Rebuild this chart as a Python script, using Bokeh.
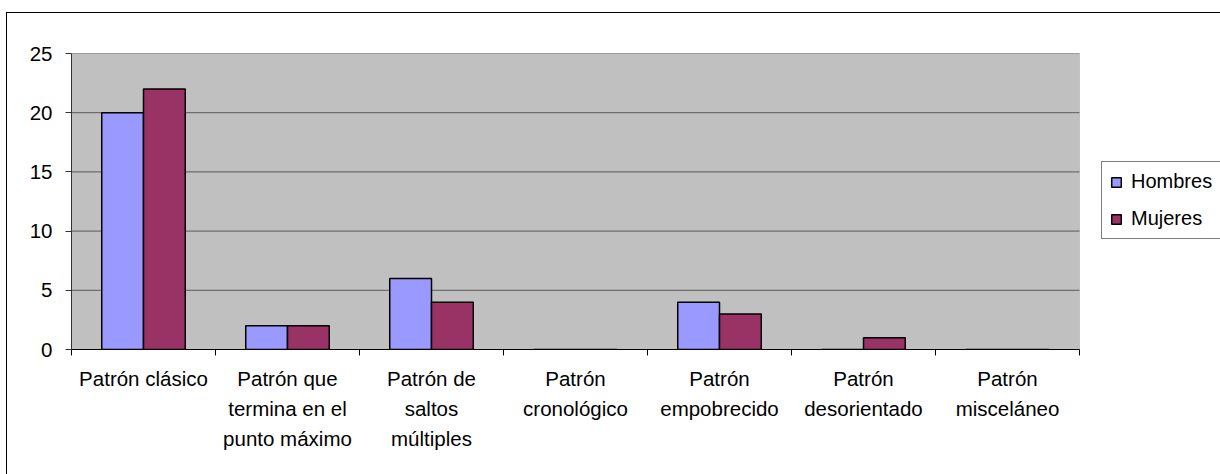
from bokeh.plotting import figure
from bokeh.models import (ColumnDataSource, FixedTicker, Range1d, Legend, LegendItem,
                          BoxAnnotation)
from bokeh.embed import file_html
from bokeh.resources import INLINE
import numpy as np

categories = ["Patrón clásico", "Patrón que\ntermina en el\npunto máximo",
              "Patrón de\nsaltos\nmúltiples", "Patrón\ncronológico",
              "Patrón\nempobrecido", "Patrón\ndesorientado", "Patrón\nmisceláneo"]
hombres = [20, 2, 6, 0, 4, 0, 0]
mujeres = [22, 2, 4, 0, 3, 1, 0]
y_ticks = [0, 5, 10, 15, 20, 25]

FONT = "Liberation Sans"
n = len(categories)
ymax = y_ticks[-1]
centers = np.arange(n) + 0.5
bw = 0.29

src = ColumnDataSource(dict(xc=centers, h=hombres, m=mujeres,
                            xh=centers - bw / 2, xm=centers + bw / 2))

# plot area is 1008 px wide for the 7 categories; the frame extends to the
# right edge so the legend (which reaches past the window) is not clipped
FRAME_W = 1214 - 64
x_end = n * FRAME_W / 1008.0

p = figure(width=1214, height=462, output_backend="svg", toolbar_location=None,
           x_range=Range1d(0, x_end), y_range=Range1d(0, ymax),
           min_border_left=64, min_border_right=0, min_border_top=40,
           min_border_bottom=126)
p.margin = (12, 0, 0, 6)
p.styles = {"border-left": "1px solid #000", "border-top": "1px solid #000"}
p.background_fill_color = "white"
p.border_fill_color = "white"
p.outline_line_color = None

plot_area = BoxAnnotation(left=0, right=n, bottom=0, top=ymax,
                          fill_color="#c0c0c0", fill_alpha=1,
                          line_color="#808080", line_width=1, level="image")
p.add_layout(plot_area)

p.ygrid.visible = False
p.xgrid.visible = False
p.segment(x0=[0] * len(y_ticks), x1=[n] * len(y_ticks), y0=y_ticks, y1=y_ticks,
          line_color="#5a5a5a", line_width=1, level="underlay")

rh = p.vbar(x="xh", top="h", width=bw, source=src, fill_color="#9999ff",
            line_color="black", line_width=1.5)
rm = p.vbar(x="xm", top="m", width=bw, source=src, fill_color="#993366",
            line_color="black", line_width=1.5)

xa = p.xaxis[0]
xa.bounds = (0, n)
xa.ticker = FixedTicker(ticks=list(centers), minor_ticks=list(range(n + 1)))
xa.major_label_overrides = {float(c): lab for c, lab in zip(centers, categories)}
xa.major_tick_line_color = None
xa.minor_tick_line_color = "black"
xa.minor_tick_out = 6
xa.minor_tick_in = 0
xa.axis_line_color = "black"
xa.axis_line_width = 1
xa.major_label_text_font = FONT
xa.major_label_text_font_size = "20.5px"
xa.major_label_text_color = "black"
xa.major_label_text_line_height = 1.32
xa.major_label_standoff = 11

ya = p.yaxis[0]
ya.ticker = FixedTicker(ticks=y_ticks)
ya.minor_tick_line_color = None
ya.major_tick_out = 6
ya.major_tick_in = 0
ya.axis_line_color = "#333333"
ya.major_tick_line_color = "#333333"
ya.major_label_text_font = FONT
ya.major_label_text_font_size = "20.5px"
ya.major_label_text_color = "black"
ya.major_label_standoff = 13

legend = Legend(items=[LegendItem(label="Hombres", renderers=[rh]),
                       LegendItem(label="Mujeres", renderers=[rm])],
                location=(1030, 110), orientation="vertical")
legend.label_text_font = FONT
legend.label_text_font_size = "20px"
legend.label_text_color = "black"
legend.glyph_width = 12
legend.glyph_height = 12
legend.label_height = 18
legend.label_width = 90
legend.label_standoff = 9
legend.spacing = 14
legend.padding = 8
legend.margin = 0
legend.border_line_color = "black"
legend.border_line_width = 1
legend.background_fill_color = "white"
p.add_layout(legend)

open("out.html", "w").write(file_html(p, INLINE))
